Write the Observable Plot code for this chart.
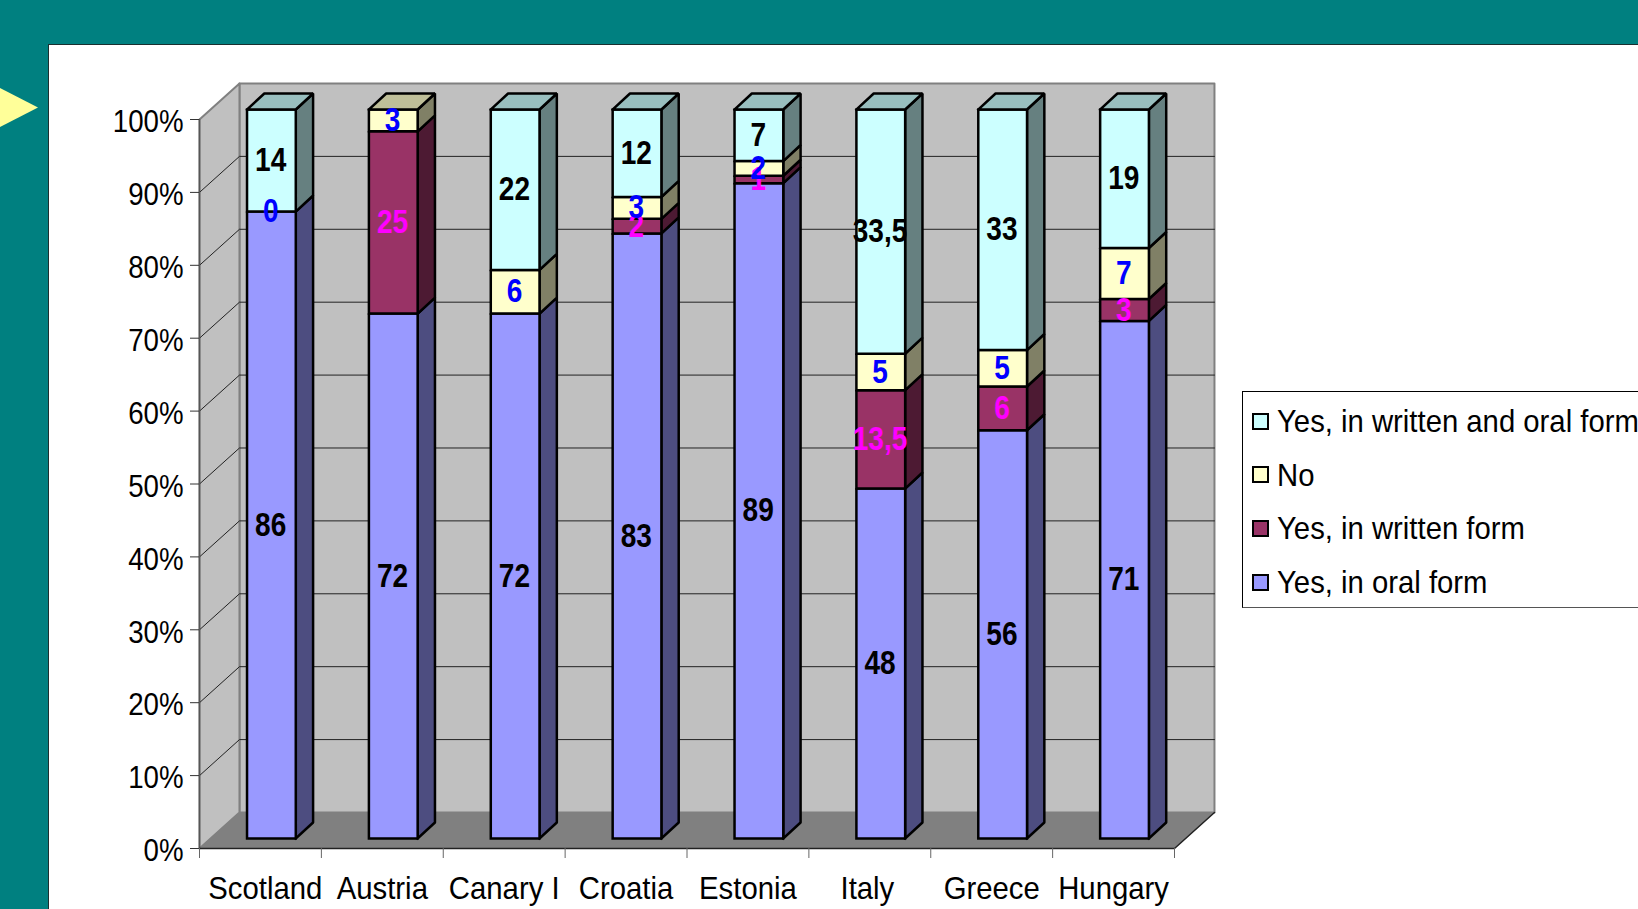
<!DOCTYPE html>
<html>
<head>
<meta charset="utf-8">
<script src="https://cdn.jsdelivr.net/npm/d3@7"></script>
<script src="https://cdn.jsdelivr.net/npm/@observablehq/plot@0.6"></script>
<style>
html,body{margin:0;padding:0;width:1638px;height:909px;overflow:hidden;background:#008080;font-family:"Liberation Sans",Arial,sans-serif}
#panel{position:absolute;left:48px;top:44px;right:-2px;bottom:-2px;background:#fff;border:1px solid #1a2f2f}
#arrow{position:absolute;left:0;top:88px;width:38px;height:39px;background:#ffff99;clip-path:polygon(0 0,100% 50%,0 100%)}
#chart{position:absolute;left:0;top:0}
#chart svg{background:transparent}
#legend{position:absolute;left:1242px;top:391px;width:420px;height:217px;box-sizing:border-box;background:#fff;border:1px solid #000;border-bottom-color:#555}
.row{position:absolute;left:9px;height:34px;line-height:34px;font-size:32px;color:#000;white-space:nowrap;display:flex;align-items:center}
.sw{display:inline-block;flex:none;width:13px;height:13px;border:2.5px solid #000;margin-right:8px;position:relative;top:-1px}
.row svg{overflow:visible;display:block}
</style>
</head>
<body>
<div id="panel"></div>
<div id="arrow"></div>
<div id="chart"></div>
<div id="legend"></div>
<script>
const categories = ["Scotland","Austria","Canary I","Croatia","Estonia","Italy","Greece","Hungary"];
const seriesNames = ["Yes, in oral form","Yes, in written form","No","Yes, in written and oral form"];
const oral    = [86,72,72,83,89,48,56,71];
const written = [0,25,0,2,1,13.5,6,3];
const no      = [0,3,6,3,2,5,5,7];
const both    = [14,0,22,12,7,33.5,33,19];
const frontColors = ["#9999ff","#993366","#ffffcc","#ccffff"];
const sideColors  = ["#4d4d80","#4d1a33","#808066","#668080"];
const topColors   = ["#7373bf","#732640","#bfbf99","#99bfbf"];
const labelColors = ["#000000","#ff00ff","#0000ff","#000000"];
const yTicks = d3.range(0,101,10);

// depth of the chart box and of the bars, in scale units
const wallDx = 0.328, wallDy = 4.94;
const barOffset = 0.39, barWidth = 0.4, barLift = 1.372, barDx = 0.142, barDy = 2.2;
const categoryNudge = [0.04,0,0,0,0,-0.02,0,0];

const series = [oral,written,no,both];
const polys = [], labels = [];
function poly(id, fill, pts){ pts.concat([pts[0]]).forEach(([x,y]) => polys.push({id,fill,x,y})); }

categories.forEach((c,i) => {
  const total = d3.sum(series, s => s[i]);
  const xL = i + barOffset, xR = xL + barWidth;
  let acc = 0, lastIdx = 0;
  series.forEach((s,k) => {
    const v = s[i];
    const y0 = acc/total*100 + barLift;
    acc += v;
    const y1 = acc/total*100 + barLift;
    if (v > 0) {
      lastIdx = k;
      poly(`${i}-${k}-s`, sideColors[k], [[xR,y0],[xR+barDx,y0+barDy],[xR+barDx,y1+barDy],[xR,y1]]);
      poly(`${i}-${k}-f`, frontColors[k], [[xL,y0],[xR,y0],[xR,y1],[xL,y1]]);
    }
    // Written-form zeros carry no label in the source; the "No" zero does.
    if (v > 0 || k === 2 && both[i] > 0 && written[i] === 0)
      labels.push({x:(xL+xR)/2 - 0.006, y:(y0+y1)/2, text:String(v).replace(".",","), fill:labelColors[k]});
  });
  const yT = 100 + barLift;
  poly(`${i}-t`, topColors[lastIdx], [[xL,yT],[xR,yT],[xR+barDx,yT+barDy],[xL+barDx,yT+barDy]]);
});

const walls = [];
const wall = (id,fill,pts) => pts.concat([pts[0]]).forEach(([x,y]) => walls.push({id,fill,x,y}));
wall("back","#c0c0c0",[[wallDx,wallDy],[8+wallDx,wallDy],[8+wallDx,100+wallDy],[wallDx,100+wallDy]]);
wall("left","#c0c0c0",[[0,0],[wallDx,wallDy],[wallDx,100+wallDy],[0,100]]);
const floor = [[0,0],[8,0],[8+wallDx,wallDy],[wallDx,wallDy]].map(([x,y]) => ({x,y}));

const grid = yTicks.slice(1,-1).flatMap(t => [
  {t,x:0,y:t},{t,x:wallDx,y:t+wallDy},{t,x:8+wallDx,y:t+wallDy}
]);

const plot = Plot.plot({
  width:1638, height:909,
  marginLeft:199, marginRight:464, marginTop:119, marginBottom:61,
  x:{domain:[0,8],axis:null},
  y:{domain:[0,100],axis:null},
  style:{fontFamily:'"Liberation Sans",Arial,sans-serif',background:"transparent",overflow:"visible"},
  marks:[
    Plot.line(walls,{x:"x",y:"y",z:"id",fill:{value:"fill",scale:null},stroke:"#808080",strokeWidth:2}),
    Plot.line(floor.concat([floor[0]]),{x:"x",y:"y",fill:"#808080",stroke:"none"}),
    Plot.line(grid,{x:"x",y:"y",z:"t",stroke:"#222",strokeWidth:1}),
    Plot.line([{x:0,y:100},{x:0,y:0}],{x:"x",y:"y",stroke:"#555",strokeWidth:1.5}),
    Plot.line([{x:0,y:0},{x:8,y:0},{x:8+wallDx,y:wallDy}],{x:"x",y:"y",stroke:"#222",strokeWidth:1.5}),
    Plot.axisY(yTicks,{anchor:"left",tickSize:9,tickPadding:7,fontSize:32,tickFormat:d=>d+"%",label:null,stroke:"#333",textStroke:"none"}),
    Plot.axisX(d3.range(0,9),{anchor:"bottom",tickSize:10,tickFormat:()=>"",label:null,stroke:"#666"}),
    Plot.text(categories,{x:(d,i)=>i+0.5+categoryNudge[i],y:()=>0,dy:40,text:d=>d,fontSize:32,lineAnchor:"middle",textAnchor:"middle",fill:"#000"}),
    Plot.line(polys,{x:"x",y:"y",z:"id",fill:{value:"fill",scale:null},stroke:"#000",strokeWidth:2.5,strokeLinejoin:"miter",strokeLinecap:"square"}),
    Plot.text(labels,{x:"x",y:"y",dy:0,text:"text",fill:{value:"fill",scale:null},fontSize:33,fontWeight:"bold",lineAnchor:"middle",textAnchor:"middle"})
  ]
});
document.getElementById("chart").appendChild(plot);

// Reference type is condensed: narrow glyphs with textLength.
function squeeze(t,f){
  if (!t.textContent) return;
  t.setAttribute("textLength", t.getComputedTextLength()*f);
  t.setAttribute("lengthAdjust","spacingAndGlyphs");
}
plot.querySelectorAll("text").forEach(t => {
  const g = t.closest("g");
  const aria = g ? (g.getAttribute("aria-label")||"") : "";
  const bold = g && g.getAttribute("font-weight") === "bold";
  if (aria.startsWith("x-axis")) return;
  squeeze(t, bold ? 0.85 : aria.startsWith("y-axis") ? 0.864 : 0.916);
  if (aria.startsWith("y-axis")) t.setAttribute("dy", (parseFloat(t.getAttribute("dy"))||0) + 2.5);
});

// Legend, top entry first as in the reference
const legend = d3.select("#legend");
[3,2,1,0].forEach((k,r) => {
  const row = legend.append("div").attr("class","row").style("top",(13+r*53.7)+"px");
  row.append("span").attr("class","sw").style("background",frontColors[k]);
  const s = row.append("svg").attr("width",400).attr("height",34);
  const t = s.append("text").attr("y",27).attr("font-size",32).attr("fill","#000")
    .attr("font-family",'"Liberation Sans",Arial,sans-serif').text(seriesNames[k]).node();
  squeeze(t,0.915);
});
</script>
</body>
</html>
